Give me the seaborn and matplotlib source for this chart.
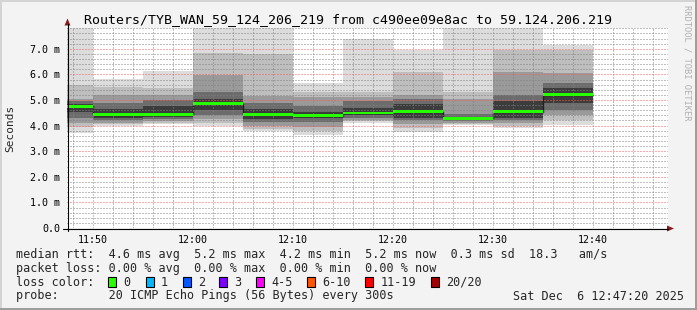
import matplotlib
matplotlib.use("Agg")
import numpy as np
import pandas as pd
import matplotlib.pyplot as plt
import seaborn as sns
from matplotlib.ticker import MultipleLocator, FixedLocator, FuncFormatter
from matplotlib.patches import Rectangle
from matplotlib.lines import Line2D

# ---------------- data (milliseconds) ----------------
bar_starts = ["11:45", "11:50", "11:55", "12:00", "12:05", "12:10",
              "12:15", "12:20", "12:25", "12:30", "12:35"]
median_ms = [4.76, 4.43, 4.44, 4.86, 4.44, 4.39, 4.49, 4.55, 4.28, 4.54, 5.21]
# smoke bands, outermost (min..max) first
max_ms = [7.90, 5.81, 6.15, 7.90, 7.90, 5.65, 7.38, 6.95, 7.90, 7.90, 7.15]
hi2_ms = [5.60, 5.50, 5.45, 6.85, 6.80, 5.33, 5.33, 6.10, 5.33, 6.95, 6.95]
hi3_ms = [5.05, 5.20, 5.20, 5.98, 5.15, 5.13, 5.10, 5.20, 5.03, 6.10, 6.04]
hi4_ms = [4.95, 4.90, 5.00, 5.32, 4.90, 4.75, 4.95, 5.05, 4.45, 5.20, 5.65]
hi5_ms = [4.85, 4.65, 4.75, 5.05, 4.65, 4.55, 4.70, 4.85, 4.35, 4.95, 5.45]
lo5_ms = [4.55, 4.30, 4.33, 4.60, 4.25, 4.30, 4.40, 4.30, 4.22, 4.30, 4.90]
lo4_ms = [4.30, 4.20, 4.25, 4.40, 4.15, 4.15, 4.30, 4.20, 4.17, 4.20, 4.60]
lo3_ms = [4.10, 4.12, 4.18, 4.25, 4.00, 3.95, 4.22, 4.05, 4.12, 4.10, 4.40]
lo2_ms = [3.95, 4.05, 4.10, 4.10, 3.88, 3.80, 4.17, 3.92, 4.07, 4.00, 4.20]
min_ms = [3.72, 3.98, 4.05, 4.00, 3.78, 3.63, 4.12, 3.76, 4.02, 3.90, 4.02]
bar_minutes = 5

y_tick_values = [0, 1, 2, 3, 4, 5, 6, 7]
x_tick_labels = ["11:50", "12:00", "12:10", "12:20", "12:30", "12:40"]

title = "Routers/TYB_WAN_59_124_206_219 from c490ee09e8ac to 59.124.206.219"
legend_rows = [
    "median rtt:  4.6 ms avg  5.2 ms max  4.2 ms min  5.2 ms now  0.3 ms sd  18.3   am/s",
    "packet loss: 0.00 % avg  0.00 % max  0.00 % min  0.00 % now",
    "loss color:",
    "probe:       20 ICMP Echo Pings (56 Bytes) every 300s",
]
date_text = "Sat Dec  6 12:47:20 2025"
loss_labels = ["0", "1", "2", "3", "4-5", "6-10", "11-19", "20/20"]
loss_colors = ["#26ff00", "#00b8ff", "#0059ff", "#7e00ff", "#ff00ff",
               "#ff5500", "#ff0000", "#a00000"]

# ---------------- style ----------------
sns.set_style("white")
MONO = ["DejaVu Sans Mono"]
plt.rcParams["font.family"] = MONO

W, H = 697, 310
fig = plt.figure(figsize=(W / 100, H / 100), dpi=100, facecolor="#f3f3f3")

left, right, top, bottom = 67, 668, 27.7, 228
ax = fig.add_axes([left / W, 1 - bottom / H, (right - left) / W, (bottom - top) / H])
ax.set_facecolor("white")


def to_min(s):
    h, m = s.split(":")
    return int(h) * 60 + int(m) - 660


starts = np.array([to_min(s) for s in bar_starts], dtype=float)

smoke = [(min_ms, max_ms), (lo2_ms, hi2_ms), (lo3_ms, hi3_ms),
         (lo4_ms, hi4_ms), (lo5_ms, hi5_ms)]
smoke_colors = ["#dcdcdc", "#bebebe", "#9a9a9a", "#6c6c6c", "#3c3c3c"]
for (lo, hi), c in zip(smoke, smoke_colors):
    lo = np.array(lo); hi = np.array(hi)
    ax.bar(starts, hi - lo, bottom=lo, width=bar_minutes, align="edge",
           color=c, linewidth=0, zorder=1)

# median black step line
step_df = pd.DataFrame({"t": list(starts) + [starts[-1] + bar_minutes],
                        "m": list(median_ms) + [median_ms[-1]]})
sns.lineplot(data=step_df, x="t", y="m", drawstyle="steps-post",
             color="#202020", lw=1.0, ax=ax, zorder=2)
# green loss band
band = 0.11
ax.bar(starts, band, bottom=np.array(median_ms) - band / 2, width=bar_minutes,
       align="edge", color=loss_colors[0], linewidth=0, zorder=3)

xmin = 47.43
xmax = xmin + (right - left) / 10.0
ymax = (bottom - top) / 25.6
ax.set_xlim(xmin, xmax)
ax.set_ylim(0, ymax)

ax.xaxis.set_major_locator(FixedLocator([to_min(s) for s in x_tick_labels]))
ax.set_xticklabels(x_tick_labels)
ax.xaxis.set_minor_locator(MultipleLocator(2))
ax.yaxis.set_major_locator(FixedLocator(y_tick_values))
ax.yaxis.set_major_formatter(FuncFormatter(lambda v, p: "0.0" if v == 0 else f"{v:.1f} m"))
ax.yaxis.set_minor_locator(MultipleLocator(0.2))
ax.set_xlabel("")
ax.set_ylabel("")

ax.set_axisbelow(False)
ax.grid(which="minor", color=(0.5, 0.5, 0.5, 0.25), linestyle=(0, (1, 2)), lw=0.72)
ax.grid(which="major", color=(1.0, 0.35, 0.35, 0.45), linestyle=(0, (1, 2)), lw=0.72)
for gl in ax.get_xgridlines() + ax.get_ygridlines():
    gl.set_zorder(4)

ax.tick_params(which="both", direction="out", length=2, width=0.7, color="black",
               labelsize=7.2, pad=3, labelcolor="black")
for sp in ax.spines.values():
    sp.set_visible(False)

# ---------------- overlay in pixel coordinates ----------------
ov = fig.add_axes([0, 0, 1, 1], zorder=10)
ov.set_xlim(0, W)
ov.set_ylim(H, 0)
ov.axis("off")
ov.patch.set_alpha(0)

# frame border (3D look)
ov.add_patch(Rectangle((0, 0), W, 2, color="#d4d4d4", lw=0))
ov.add_patch(Rectangle((0, 0), 2, H, color="#d4d4d4", lw=0))
ov.add_patch(Rectangle((0, H - 2.5), W, 2.5, color="#9e9e9e", lw=0))
ov.add_patch(Rectangle((W - 2.5, 0), 2.5, H, color="#9e9e9e", lw=0))

# axes lines and arrows
ov.add_line(Line2D([63, 668], [228.5, 228.5], color="black", lw=0.8))
ov.add_line(Line2D([67.5, 67.5], [231, 24], color="black", lw=0.8))
ov.add_patch(plt.Polygon([[64.5, 25.5], [70.5, 25.5], [67.5, 18.5]], color="#8b1a1a", lw=0))
ov.add_patch(plt.Polygon([[667, 225.5], [667, 231.5], [674, 228.5]], color="#8b1a1a", lw=0))

# title and labels
ov.text(347.5, 23, title, ha="center", va="baseline", fontsize=9.5, family=MONO, color="black")
ov.text(10.5, 128, "Seconds", ha="center", va="center", rotation=90, fontsize=8, family=MONO)
ov.text(687, 5, "RRDTOOL / TOBI OETIKER", ha="center", va="top", rotation=270,
        fontsize=6.3, family=MONO, color="#b0b0b0")

# legend rows
baselines = [258, 272, 285.5, 299.5]
for txt, yb in zip(legend_rows, baselines):
    ov.text(16, yb, txt, ha="left", va="baseline", fontsize=8.5, family=MONO)
ov.text(513, baselines[3], date_text, ha="left", va="baseline", fontsize=8.5, family=MONO)

box_x = [108.3, 145.7, 182.7, 219.3, 256, 307.3, 365.3, 430.7]
for bx, lab, col in zip(box_x, loss_labels, loss_colors):
    ov.add_patch(Rectangle((bx, 276.5), 8, 10, facecolor=col, edgecolor="black", lw=0.8))
    ov.text(bx + 15, baselines[2], lab, ha="left", va="baseline", fontsize=8.5, family=MONO)

fig.savefig("out.png", dpi=100, facecolor=fig.get_facecolor())
